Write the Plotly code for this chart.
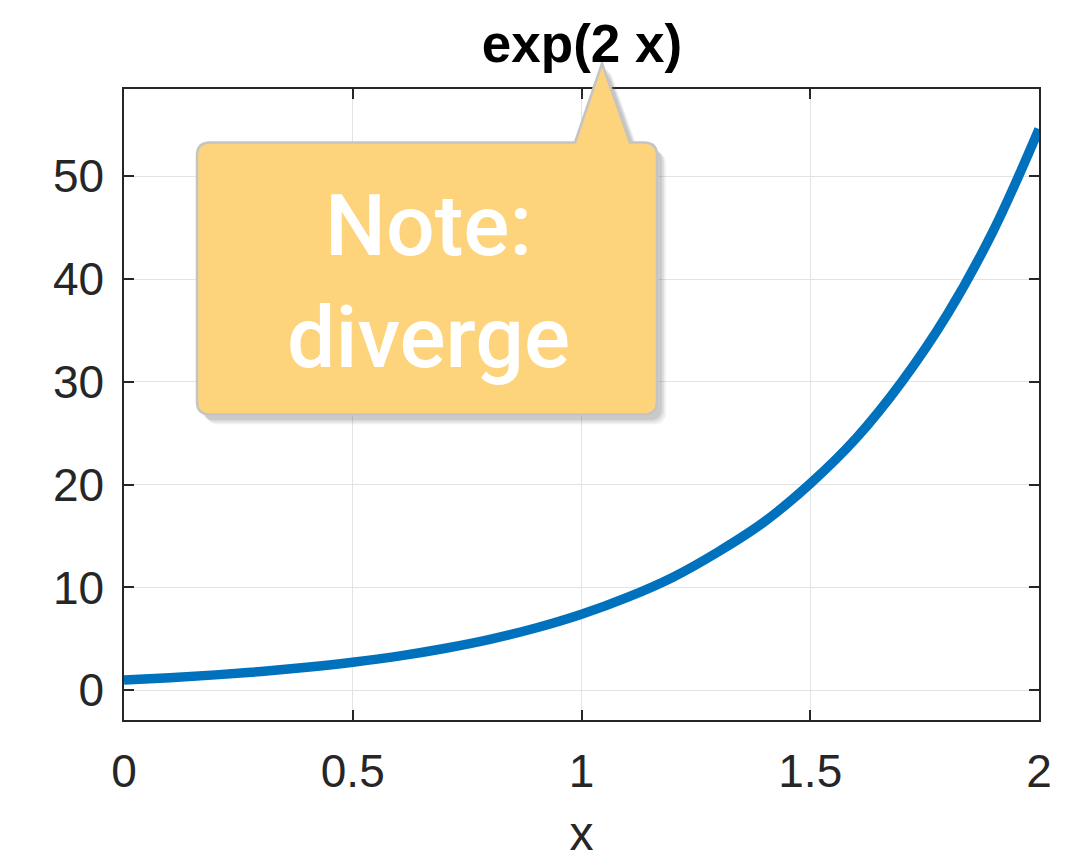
import plotly.graph_objects as go

# curve values
x_vals = [0.0, 0.1, 0.2, 0.3, 0.4, 0.5, 0.6, 0.7, 0.8, 0.9, 1.0,
          1.1, 1.2, 1.3, 1.4, 1.5, 1.6, 1.7, 1.8, 1.9, 2.0]
y_vals = [1.0, 1.22, 1.49, 1.82, 2.23, 2.72, 3.32, 4.06, 4.95, 6.05, 7.39,
          9.03, 11.0, 13.5, 16.4, 20.1, 24.5, 30.0, 36.6, 44.7, 54.6]

x_ticks = [0, 0.5, 1, 1.5, 2]
x_tick_labels = ["0", "0.5", "1", "1.5", "2"]
y_ticks = [0, 10, 20, 30, 40, 50]
y_tick_labels = ["0", "10", "20", "30", "40", "50"]

title_text = "<b>exp(2 x)</b>"
note_text = "Note:<br>diverge"

W, H = 1086, 863
L, R, T, B = 124, 1039, 89, 727


def px_x(p):
    return (p - L) / (R - L)


def px_y(p):
    return (B - p) / (B - T)


def callout_path(dx=0, dy=0):
    x0, x1, y0, y1, r = 197 + dx, 657 + dx, 143 + dy, 418 + dy, 13
    bl, br, tip = 575 + dx, 630 + dx, (602 + dx, 63 + dy)
    pts = [
        ("M", [(x0 + r, y0)]), ("L", [(bl, y0)]), ("L", [tip]), ("L", [(br, y0)]),
        ("L", [(x1 - r, y0)]), ("Q", [(x1, y0), (x1, y0 + r)]),
        ("L", [(x1, y1 - r)]), ("Q", [(x1, y1), (x1 - r, y1)]),
        ("L", [(x0 + r, y1)]), ("Q", [(x0, y1), (x0, y1 - r)]),
        ("L", [(x0, y0 + r)]), ("Q", [(x0, y0), (x0 + r, y0)]),
    ]
    s = ""
    for op, coords in pts:
        s += op + " " + " ".join(f"{px_x(a):.5f},{px_y(b):.5f}" for a, b in coords) + " "
    return s + "Z"


fig = go.Figure()
fig.add_trace(go.Scatter(x=x_vals, y=y_vals, mode="lines",
                         line=dict(color="#0072BD", width=9.5, shape="spline"),
                         showlegend=False, hoverinfo="skip"))

axis_common = dict(
    showline=True, linecolor="#262626", linewidth=1.5, mirror="ticks",
    ticks="inside", ticklen=10, tickwidth=1.5, tickcolor="#262626",
    showgrid=True, gridcolor="#e3e3e3", gridwidth=1, zeroline=False,
    tickfont=dict(family="Liberation Sans, Arial, sans-serif", size=46, color="#262626"),
)

fig.update_xaxes(range=[0, 2], tickvals=x_ticks, ticktext=x_tick_labels,
                 ticklabelstandoff=10,
                 title=dict(text="x", font=dict(family="Liberation Sans, Arial, sans-serif",
                                                 size=48, color="#262626"), standoff=20),
                 **axis_common)
fig.update_yaxes(range=[-2.9, 58.5], tickvals=y_ticks, ticktext=y_tick_labels,
                 ticklabelstandoff=9, **axis_common)

shapes = []
for off, op in [((9, 10), 0.10), ((7, 8), 0.14), ((5, 6), 0.18)]:
    shapes.append(dict(type="path", xref="paper", yref="paper", path=callout_path(*off),
                       fillcolor="#707070", opacity=op, line=dict(width=0), layer="above"))
shapes.append(dict(type="path", xref="paper", yref="paper", path=callout_path(),
                   fillcolor="#FDD37B", line=dict(color="#c4c4c4", width=2.5), layer="above"))

fig.update_layout(
    width=W, height=H,
    margin=dict(l=L, r=W - R, t=T, b=H - B),
    plot_bgcolor="white", paper_bgcolor="white",
    title=dict(text=title_text, x=582 / W, xanchor="center",
               y=1 - 43 / H, yanchor="middle", yref="container",
               font=dict(family="Liberation Sans, Arial, sans-serif", size=53, color="black")),
    shapes=shapes,
    annotations=[dict(text=note_text, xref="paper", yref="paper",
                      x=px_x(428), y=px_y(284), xanchor="center", yanchor="middle",
                      showarrow=False, align="center",
                      font=dict(family="Roboto, sans-serif", size=86, color="white", weight=500))],
)

# drop the browser's default body margin so the figure fills the window exactly
fig.write_html("out.html", config={"displayModeBar": False},
               post_script="document.body.style.margin='0';document.body.style.overflow='hidden';")
